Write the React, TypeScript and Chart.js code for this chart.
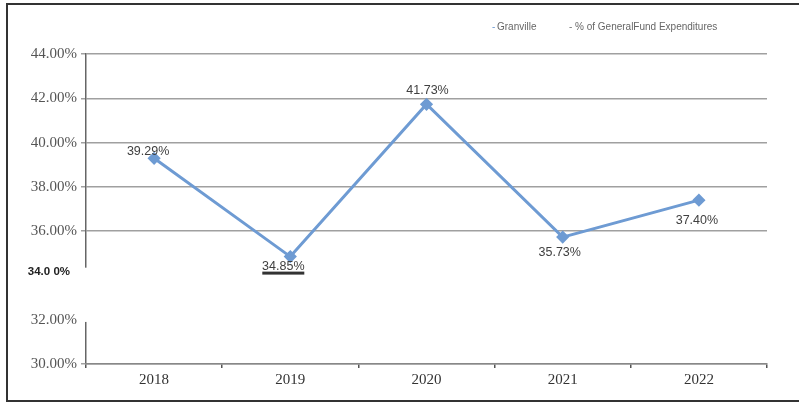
import React, { useEffect, useRef } from "react";
import { Chart, registerables } from "chart.js";

Chart.register(...registerables);

const categories = ["2018", "2019", "2020", "2021", "2022"];
const values = [39.29, 34.85, 41.73, 35.73, 37.4];
const yMin = 30;
const yMax = 44;
const yStep = 2;
const oddTickValue = 34;
const oddTickText = "34.0 0%";
const legendLabels = ["Granville", "% of GeneralFund Expenditures"];

// label offsets (dx, dy) from each point, in px
const labelOffsets = [
  [-6, -7],
  [-7, 10],
  [1, -14],
  [-3, 15],
  [-2, 20],
];

const LINE_COLOR = "#6e9bd3";

const decorPlugin = {
  id: "decor",
  afterDraw(chart: any) {
    const ctx = chart.ctx;
    const ys = chart.scales.y;
    const area = chart.chartArea;
    ctx.save();
    // gap in the y axis line (scan artifact)
    const gTop = ys.getPixelForValue(34.35);
    const gBot = ys.getPixelForValue(31.9);
    ctx.fillStyle = "#ffffff";
    ctx.fillRect(area.left - 3, gTop, 6, gBot - gTop);
    // odd bold 34% label
    ctx.font = "bold 11.5px 'Liberation Sans', Arial, sans-serif";
    ctx.fillStyle = "#222";
    ctx.textAlign = "right";
    ctx.textBaseline = "middle";
    ctx.fillText(oddTickText, area.left - 16, ys.getPixelForValue(oddTickValue) - 4);

    // data labels
    const meta = chart.getDatasetMeta(0);
    ctx.font = "12.5px 'Liberation Sans', Arial, sans-serif";
    ctx.fillStyle = "#404040";
    ctx.textAlign = "center";
    meta.data.forEach((pt: any, i: number) => {
      const [dx, dy] = labelOffsets[i];
      const cx = pt.x + dx;
      const cy = pt.y + dy;
      ctx.fillText(values[i].toFixed(2) + "%", cx, cy);
      if (i === 1) {
        ctx.fillStyle = "#333";
        ctx.fillRect(cx - 21, cy + 5, 42, 3);
        ctx.fillStyle = "#404040";
      }
    });

    // legend
    ctx.font = "10px 'Liberation Sans', Arial, sans-serif";
    ctx.textAlign = "left";
    ctx.textBaseline = "middle";
    const ly = 27;
    ctx.fillStyle = LINE_COLOR;
    ctx.fillText("-", 492, ly);
    ctx.fillStyle = "#666";
    ctx.fillText(legendLabels[0], 497, ly);
    ctx.fillStyle = "#777";
    ctx.fillText("-", 569, ly);
    ctx.fillStyle = "#666";
    ctx.fillText(legendLabels[1], 575, ly);
    ctx.restore();
  },
};

export default function App() {
  const ref = useRef<HTMLCanvasElement | null>(null);
  useEffect(() => {
    if (!ref.current) return;
    const chart = new Chart(ref.current, {
      type: "line",
      data: {
        labels: categories,
        datasets: [
          {
            label: legendLabels[0],
            data: values,
            borderColor: LINE_COLOR,
            backgroundColor: LINE_COLOR,
            borderWidth: 3,
            pointStyle: "rectRot",
            pointRadius: 4.5,
            pointBackgroundColor: LINE_COLOR,
            pointBorderColor: LINE_COLOR,
            tension: 0,
          },
        ],
      },
      options: {
        responsive: false,
        animation: false,
        layout: { padding: { top: 54, right: 32, left: 0, bottom: 0 } },
        plugins: { legend: { display: false }, tooltip: { enabled: false } },
        scales: {
          y: {
            min: yMin,
            max: yMax,
            ticks: {
              stepSize: yStep,
              callback: (v: any) => (v === oddTickValue ? "" : Number(v).toFixed(2) + "%"),
              font: { family: "'Liberation Serif', 'Times New Roman', serif", size: 15 },
              color: "#555",
              padding: 4,
            },
            grid: {
              color: (c: any) =>
                c.tick && (c.tick.value === 32 || c.tick.value === 34) ? "rgba(0,0,0,0)" : "#a0a0a0",
              lineWidth: 1.5,
              tickLength: 5,
            },
            border: { display: true, color: "#666", width: 1.5 },
            afterFit: (s: any) => {
              s.width = 86;
            },
          },
          x: {
            offset: true,
            grid: {
              offset: true,
              drawOnChartArea: false,
              drawTicks: true,
              tickLength: 4,
              color: "#555",
              lineWidth: 1.5,
            },
            border: { display: true, color: "#888", width: 1.5 },
            ticks: {
              font: { family: "'Liberation Serif', 'Times New Roman', serif", size: 15 },
              color: "#333",
              padding: 3,
            },
            afterFit: (s: any) => {
              s.height = 39;
            },
          },
        },
      },
      plugins: [decorPlugin],
    } as any);
    return () => chart.destroy();
  }, []);

  return (
    <div style={{ position: "absolute", left: 0, top: 0, width: 799, height: 403, background: "#fff", overflow: "hidden" }}>
      <canvas ref={ref} width={799} height={403} style={{ display: "block" }} />
      <div
        style={{
          position: "absolute",
          left: 6,
          top: 3,
          width: 830,
          height: 399,
          border: "2px solid #333",
          boxSizing: "border-box",
          pointerEvents: "none",
        }}
      />
    </div>
  );
}
